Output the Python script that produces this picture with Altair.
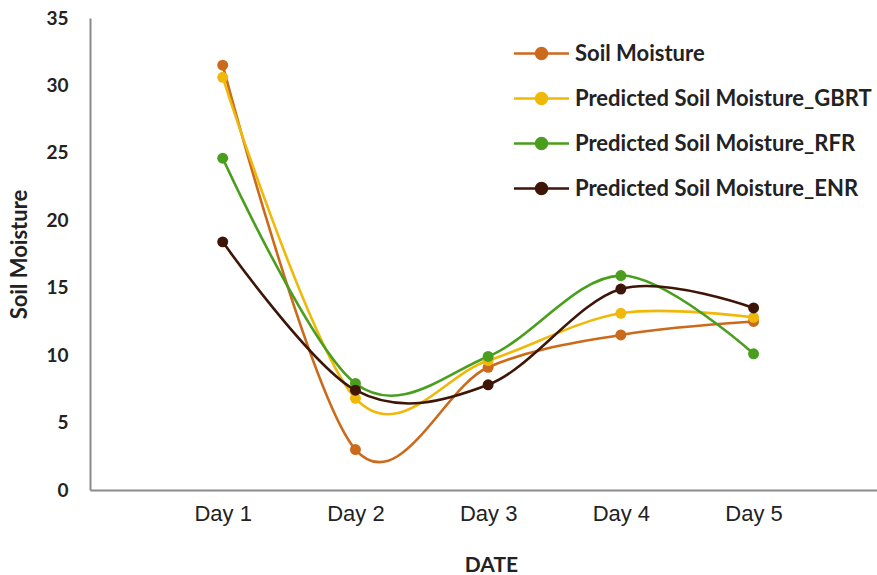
import altair as alt
import pandas as pd

days = [1, 2, 3, 4, 5]
series_names = [
    "Soil Moisture",
    "Predicted Soil Moisture_GBRT",
    "Predicted Soil Moisture_RFR",
    "Predicted Soil Moisture_ENR",
]
soil_moisture = [31.5, 3.0, 9.1, 11.5, 12.5]
pred_gbrt = [30.6, 6.8, 9.6, 13.1, 12.8]
pred_rfr = [24.6, 7.9, 9.9, 15.9, 10.1]
pred_enr = [18.4, 7.4, 7.8, 14.9, 13.5]
series_colors = ["#CC6A1C", "#F0B808", "#4A9E1E", "#3E1607"]

rows = []
for name, vals in zip(series_names, [soil_moisture, pred_gbrt, pred_rfr, pred_enr]):
    for d, v in zip(days, vals):
        rows.append({"day": d, "value": v, "series": name})
df = pd.DataFrame(rows)

# horizontal line with a dot in the middle, used as the legend symbol
legend_symbol = (
    "M-1.25,0L-0.25,0M0.25,0L1.25,0"
    "M0.25,0A0.25,0.25 0 1,1 -0.25,0A0.25,0.25 0 1,1 0.25,0Z"
)

color = alt.Color(
    "series:N",
    scale=alt.Scale(domain=series_names, range=series_colors),
    sort=series_names,
    legend=alt.Legend(
        title=None,
        orient="none",
        legendX=428,
        legendY=12,
        symbolType=legend_symbol,
        symbolSize=1936,
        symbolStrokeWidth=2.5,
        labelFont="Lato",
        labelFontWeight="bold",
        labelFontSize=22,
        labelColor="#222222",
        labelLimit=400,
        labelOffset=10,
        rowPadding=10,
    ),
)

x = alt.X(
    "day:Q",
    scale=alt.Scale(domain=[0, 5.93], nice=False, zero=False),
    axis=alt.Axis(
        title="DATE",
        values=days,
        labelExpr="'Day ' + datum.value",
        grid=False,
        ticks=False,
        domainColor="#8a8a8a",
        domainWidth=2,
        labelFont="Liberation Sans",
        labelFontSize=22,
        labelColor="#222222",
        labelPadding=13,
        titleFont="Lato",
        titleFontWeight="bold",
        titleFontSize=21,
        titleColor="#222222",
        titlePadding=30,
        titleX=401,
    ),
)
y = alt.Y(
    "value:Q",
    scale=alt.Scale(domain=[0, 35], nice=False),
    axis=alt.Axis(
        title="Soil Moisture",
        values=[0, 5, 10, 15, 20, 25, 30, 35],
        grid=False,
        ticks=False,
        domainColor="#8a8a8a",
        domainWidth=2,
        labelFont="Lato",
        labelFontWeight="bold",
        labelFontSize=19,
        labelColor="#222222",
        labelPadding=22,
        titleFont="Lato",
        titleFontWeight="bold",
        titleFontSize=22,
        titleColor="#222222",
        titlePadding=14,
    ),
)

base = alt.Chart(df).encode(x=x, y=y, color=color, order=alt.Order("day:Q"))
lines = base.mark_line(interpolate="cardinal", strokeWidth=2.6)
points = base.mark_point(filled=True, size=120, opacity=1)

chart = (
    alt.layer(lines, points)
    .properties(
        width=787,
        height=472,
        autosize=alt.AutoSizeParams(type="none"),
        padding={"left": 90, "top": 18, "right": 0, "bottom": 85},
        background="white",
    )
    .configure_view(stroke=None)
)

chart.save("out.html", embed_options={"renderer": "svg", "actions": False})
